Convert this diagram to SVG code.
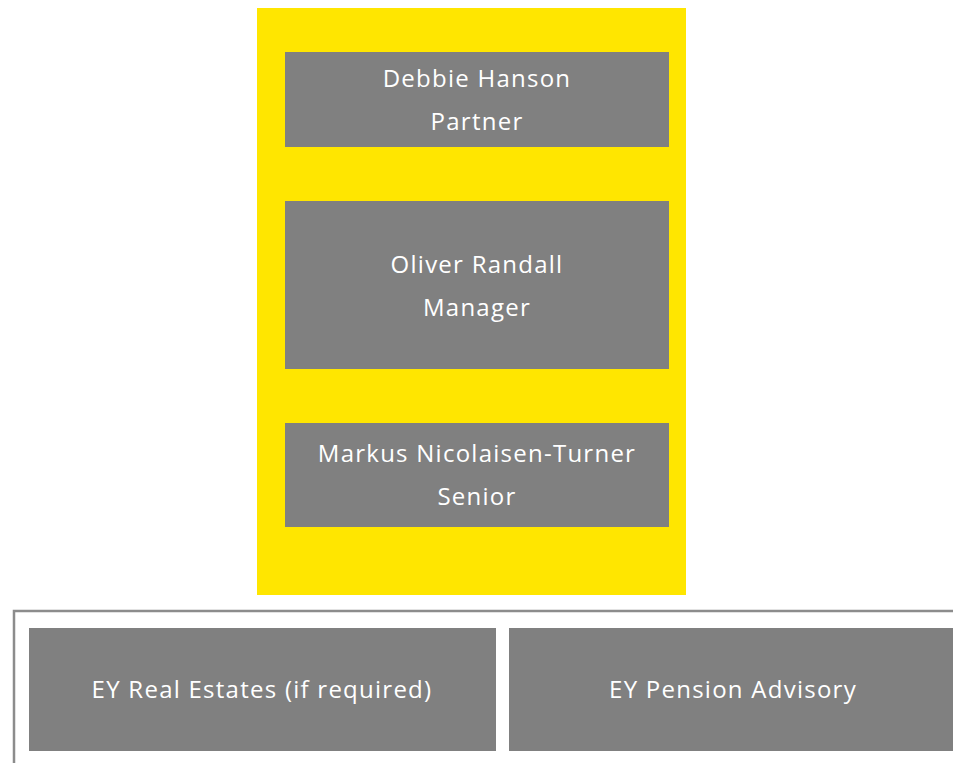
<svg xmlns="http://www.w3.org/2000/svg" width="953" height="763" viewBox="0 0 953 763">
<style>
.box{fill:#808080}
.t{font-family:"Open Sans","Liberation Sans",sans-serif;font-size:24px;letter-spacing:1.25px;fill:#ffffff;text-anchor:middle;dominant-baseline:central}
</style>
<rect x="0" y="0" width="953" height="763" fill="#ffffff"/>
<g id="team">
<rect x="257" y="8" width="429" height="587" fill="#ffe600"/>
</g>
<g id="debbie">
<rect class="box" x="285" y="52" width="384" height="95"/>
<text class="t" x="477" y="77">Debbie Hanson</text>
<text class="t" x="477" y="120">Partner</text>
</g>
<g id="oliver">
<rect class="box" x="285" y="201" width="384" height="168"/>
<text class="t" x="477" y="263">Oliver Randall</text>
<text class="t" x="477" y="306">Manager</text>
</g>
<g id="markus">
<rect class="box" x="285" y="423" width="384" height="104"/>
<text class="t" x="477" y="452">Markus Nicolaisen-Turner</text>
<text class="t" x="477" y="495">Senior</text>
</g>
<g id="support">
<rect x="14" y="611" width="960" height="200" fill="none" stroke="#8c8c8c" stroke-width="2.5"/>
</g>
<g id="realestates">
<rect class="box" x="29" y="628" width="467" height="123"/>
<text class="t" x="262" y="688">EY Real Estates (if required)</text>
</g>
<g id="pension">
<rect class="box" x="509" y="628" width="460" height="123"/>
<text class="t" x="733" y="688">EY Pension Advisory</text>
</g>
<g id="connectors"></g>
</svg>
